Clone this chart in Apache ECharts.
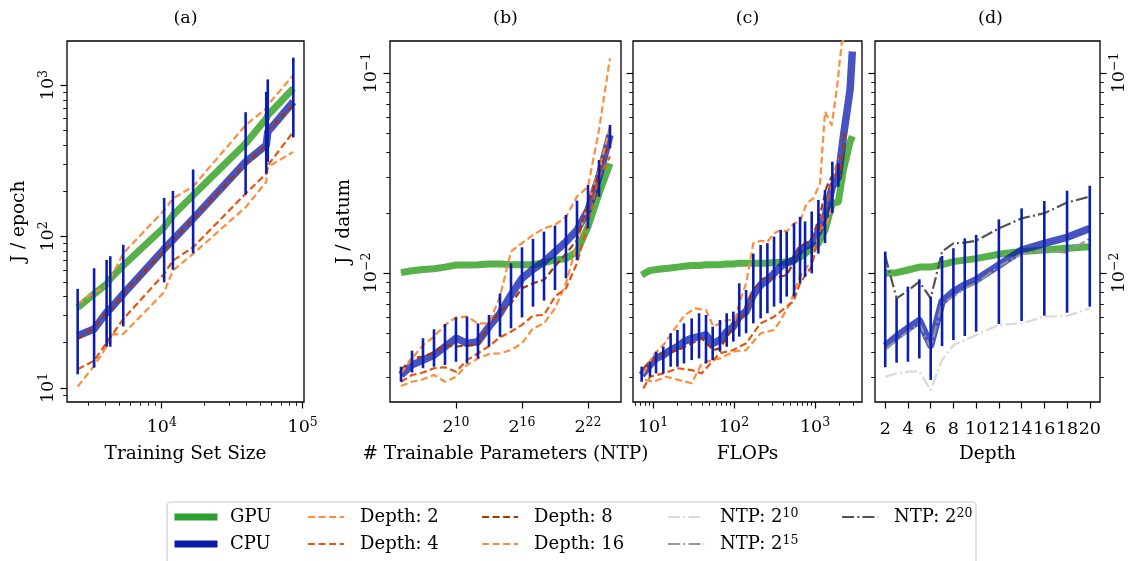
<!DOCTYPE html>
<html><head><meta charset="utf-8">
<script src="https://cdn.jsdelivr.net/npm/echarts@6/dist/echarts.min.js"></script>
<style>html,body{margin:0;padding:0;background:#fff}#c{width:1130px;height:561px}</style>
</head><body><div id="c"></div>
<script>
// ---------------- DATA ----------------
// Panel (a): J / epoch vs training set size
const aSize  = [2530, 3310, 4060, 4310, 5330, 10400, 12000, 16700, 39400, 55200, 56600, 85900];
const aGPU   = [34.0, 41.7, 48.6, 52.5, 64.3, 115, 138, 187, 411, 601, 632, 950];
const aCPU   = [22.1, 24.5, 31.6, 33.2, 41.7, 82.8, 95.0, 131, 311, 401, 491, 776];
const aCPUhi = [45.1, 61.7, 70.0, 74.1, 88.1, 180, 200, 277, 662, 903, 1090, 1517];
const aCPUlo = [12.3, 13.6, 18.7, 18.7, 25.5, 49.8, 60.3, 77.4, 189, 260, 311, 451];
const aD2    = [10.2, 14.0, 18.7, 22.5, 22.7, 42.8, 59.6, 76.8, 156, 229, 288, 362];
const aD4    = [13.3, 15.1, 19.9, 21.5, 28.5, 56.6, 69.3, 84.9, 192, 260, 295, 491];
const aD8    = [21.0, 25.1, 31.6, 32.4, 41.7, 80.7, 94.1, 131, 303, 401, 503, 738];
const aD16   = [35.8, 42.8, 46.6, 52.5, 77.4, 149, 178, 214, 543, 701, 738, 1164];

// Panel (b): J / datum vs # trainable parameters
const bNTP   = [32, 64, 128, 256, 512, 1024, 2048, 4096, 8192, 16384, 32768, 65536, 131072, 262144, 524288, 1048576, 2097152, 4194304, 8388608, 16777216];
const bGPU   = [0.01004, 0.01027, 0.0104, 0.0105, 0.0107, 0.01096, 0.01096, 0.0110, 0.0111, 0.0111, 0.0110, 0.0110, 0.0110, 0.01127, 0.0116, 0.0118, 0.0128, 0.01706, 0.025, 0.0353];
const bCPU   = [0.00309, 0.00347, 0.00367, 0.00389, 0.00428, 0.00472, 0.00445, 0.00454, 0.00539, 0.00629, 0.00776, 0.0094, 0.01043, 0.01137, 0.01277, 0.01433, 0.0164, 0.02065, 0.0303, 0.049];
const bCPUhi = [0.0034, 0.00409, 0.00472, 0.00523, 0.00556, 0.0060, 0.00605, 0.0056, 0.00617, 0.00791, 0.01118, 0.01344, 0.0148, 0.0161, 0.01726, 0.0195, 0.023, 0.02754, 0.0367, 0.055];
const bCPUlo = [0.00286, 0.00318, 0.00334, 0.0034, 0.00347, 0.0036, 0.00353, 0.00374, 0.00428, 0.00481, 0.00529, 0.006, 0.00679, 0.00728, 0.00822, 0.0094, 0.01161, 0.0167, 0.0241, 0.042];
const bD2    = [0.00272, 0.00286, 0.00294, 0.00309, 0.00286, 0.00303, 0.00347, 0.00374, 0.00394, 0.00397, 0.00412, 0.00445, 0.00529, 0.0056, 0.00666, 0.00888, 0.0141, 0.0223, 0.0327, 0.0539];
const bD4    = [0.00286, 0.00309, 0.00318, 0.00334, 0.00338, 0.00321, 0.00367, 0.00397, 0.00431, 0.00477, 0.00509, 0.0055, 0.00612, 0.00617, 0.00762, 0.00838, 0.0112, 0.0177, 0.0303, 0.0382];
const bD8    = [0.00327, 0.00374, 0.00382, 0.004, 0.00436, 0.00428, 0.00436, 0.00436, 0.0055, 0.00641, 0.00705, 0.00838, 0.00888, 0.00923, 0.0108, 0.0125, 0.0146, 0.0223, 0.0315, 0.0462];
const bD16   = [0.00315, 0.00374, 0.00436, 0.00481, 0.0055, 0.006, 0.00605, 0.0056, 0.0056, 0.00762, 0.0128, 0.0141, 0.0155, 0.0167, 0.0174, 0.0191, 0.0241, 0.027, 0.0519, 0.1184];

// Panel (c): J / datum vs FLOPs
const cFLOPs = [7.24, 9.18, 10.9, 13.4, 16.5, 20.0, 24.1, 30.0, 37.0, 45.1, 54.5, 67.1, 81.2, 98.0, 116, 141, 173, 213, 258, 312, 377, 447, 551, 653, 753, 910, 1100, 1328, 1636, 1941, 2237, 2706, 2890];
const cGPU   = [0.00977, 0.0103, 0.0104, 0.0105, 0.0106, 0.0107, 0.0108, 0.0109, 0.0109, 0.0110, 0.0110, 0.0110, 0.0111, 0.0111, 0.0112, 0.0112, 0.0112, 0.0112, 0.0112, 0.0113, 0.0113, 0.0114, 0.0116, 0.0120, 0.0125, 0.0133, 0.0141, 0.0164, 0.0223, 0.0227, 0.0327, 0.0452, 0.0483];
const cCPU   = [0.00309, 0.00347, 0.00374, 0.00389, 0.00412, 0.00428, 0.00454, 0.00472, 0.00481, 0.0049, 0.00445, 0.00462, 0.00509, 0.00539, 0.00605, 0.00641, 0.00776, 0.0087, 0.00923, 0.00996, 0.01077, 0.01118, 0.0116, 0.01303, 0.01354, 0.01407, 0.0161, 0.01915, 0.027, 0.0303, 0.0481, 0.0822, 0.128];
const cCPUhi = [0.0034, 0.0036, 0.00404, 0.00428, 0.005, 0.00519, 0.0056, 0.00593, 0.00629, 0.00617, 0.00539, 0.00582, 0.00629, 0.00641, 0.00888, 0.00822, 0.0125, 0.0138, 0.0141, 0.0152, 0.0164, 0.0161, 0.0177, 0.0191, 0.0181, 0.0203, 0.0232, 0.026, 0.036, 0.0353, null, null, null];
const cCPUlo = [0.00286, 0.00303, 0.00315, 0.00315, 0.0034, 0.0034, 0.00353, 0.00367, 0.00374, 0.00353, 0.00367, 0.00404, 0.00428, 0.00454, 0.00481, 0.005, 0.0056, 0.00593, 0.00629, 0.00679, 0.00705, 0.00762, 0.00762, 0.00888, 0.00959, 0.00996, 0.0125, 0.0141, 0.0199, 0.027, null, null, null];
const cD2x   = [7.96, 10.1, 14.7, 20.5, 30.0, 39.9, 53.0, 67.2, 98.1, 141, 213, 312, 377, 491, 653, 752, 910, 1153, 1393, 1684];
const cD2    = [0.00292, 0.00286, 0.00303, 0.00292, 0.00281, 0.00353, 0.00367, 0.00374, 0.00404, 0.00412, 0.005, 0.00519, 0.00582, 0.00705, 0.00959, 0.0104, 0.0116, 0.0164, 0.0177, 0.0223];
const cD4x   = [7.60, 9.18, 13.4, 20.5, 30.0, 39.9, 55.6, 67.2, 98.1, 141, 213, 312, 447, 540, 653, 910, 1153, 1393, 1684, 1941];
const cD4    = [0.00265, 0.00303, 0.00315, 0.00334, 0.00327, 0.00315, 0.00367, 0.00397, 0.00412, 0.00445, 0.0056, 0.00605, 0.00679, 0.00719, 0.00888, 0.0108, 0.0164, 0.0223, 0.0303, 0.0374];
const cD8x   = [7.60, 10.1, 13.4, 20.5, 30.0, 39.9, 55.6, 67.2, 98.1, 141, 173, 230, 312, 447, 540, 653, 910, 1153, 1393, 1684, 2036, 2346];
const cD8    = [0.00334, 0.00367, 0.00397, 0.00412, 0.00445, 0.00472, 0.00412, 0.0042, 0.00539, 0.00641, 0.00822, 0.0094, 0.0094, 0.00977, 0.0112, 0.0135, 0.0146, 0.0195, 0.027, 0.0315, 0.0303, 0.0519];
const cD16x  = [7.60, 10.1, 13.4, 18.7, 24.8, 33.0, 45.1, 55.6, 67.2, 81.2, 103, 116, 141, 173, 213, 258, 312, 377, 447, 550, 653, 789, 954, 1153, 1329, 1607, 1851, 2134, 2704];
const cD16   = [0.00315, 0.00389, 0.00436, 0.00529, 0.00617, 0.00666, 0.00653, 0.00539, 0.0056, 0.00582, 0.00582, 0.00705, 0.00888, 0.0141, 0.0145, 0.0143, 0.0158, 0.0164, 0.0161, 0.0177, 0.0181, 0.0223, 0.0236, 0.0281, 0.0641, 0.055, 0.0822, 0.1407, 0.17];

// Panel (d): J / datum vs depth
const dDepth = [2, 3, 4, 5, 6, 7, 8, 9, 10, 12, 14, 16, 18, 20];
const dGPU   = [0.00996, 0.01004, 0.01035, 0.0107, 0.0107, 0.0110, 0.0114, 0.0116, 0.0118, 0.0124, 0.0128, 0.01303, 0.0133, 0.01354];
const dCPU   = [0.00431, 0.00481, 0.00529, 0.00578, 0.00436, 0.00719, 0.00806, 0.0087, 0.00923, 0.01096, 0.01303, 0.01407, 0.01508, 0.0167];
const dCPUhi = [0.0128, 0.00747, 0.00855, 0.0093, 0.00762, 0.01216, 0.0133, 0.0149, 0.0155, 0.01854, 0.02104, 0.0229, 0.0258, 0.0273];
const dCPUlo = [0.00338, 0.00356, 0.0036, 0.00374, 0.00292, 0.00431, 0.00462, 0.00484, 0.00509, 0.00556, 0.00575, 0.00612, 0.00633, 0.00679];
const dNTP10 = [0.00303, 0.00315, 0.00321, 0.00321, 0.0026, 0.00367, 0.00436, 0.00462, 0.0049, 0.0055, 0.0056, 0.00605, 0.0061, 0.00666];
const dNTP15 = [0.00415, 0.00462, 0.00509, 0.0056, 0.0042, 0.00705, 0.00762, 0.00838, 0.00888, 0.01077, 0.01245, 0.01294, 0.01264, 0.0149];
const dNTP20 = [0.01216, 0.00747, 0.00816, 0.00905, 0.00747, 0.0128, 0.01407, 0.01418, 0.0145, 0.0167, 0.01875, 0.0199, 0.0225, 0.0241];

// Tick values
const xaMajor = [1e4, 1e5];
const xaMinor = [3000, 4000, 5000, 6000, 7000, 8000, 9000, 20000, 30000, 40000, 50000, 60000, 70000, 80000, 90000];
const yaMajor = [10, 100, 1000];
const yaMinor = [9, 20, 30, 40, 50, 60, 70, 80, 90, 200, 300, 400, 500, 600, 700, 800, 900];
const xbMajor = [1024, 65536, 4194304];
const xcMajor = [10, 100, 1000];
const xcMinor = [6, 7, 8, 9, 20, 30, 40, 50, 60, 70, 80, 90, 200, 300, 400, 500, 600, 700, 800, 900, 2000, 3000];
const xdMajor = [2, 4, 6, 8, 10, 12, 14, 16, 18, 20];
const yJMajor = [0.01, 0.1];
const yJMinor = [0.003, 0.004, 0.005, 0.006, 0.007, 0.008, 0.009, 0.02, 0.03, 0.04, 0.05, 0.06, 0.07, 0.08, 0.09];

// Panel titles and legend entries
const panelTitles = ['(a)', '(b)', '(c)', '(d)'];
const legendNames = ['GPU', 'CPU', 'Depth: 2', 'Depth: 4', 'Depth: 8', 'Depth: 16', 'NTP: 2^10', 'NTP: 2^15', 'NTP: 2^20'];

// ---------------- STYLE ----------------
const FONT = 'DejaVu Serif';
const C_GPU = '#2a9d1a', C_CPU = '#0a1aab', C_BAR = '#0a1fb0';
const C_D2 = '#fd8d3c', C_D4 = '#e6550d', C_D8 = '#a63603', C_D16 = '#fd8d3c';
const C_N10 = '#d9d9d9', C_N15 = '#969696', C_N20 = '#525252';
const DASH = [7, 3.5], DASHDOT = [12, 3.2, 2, 3.2];
const RICH = {
  b: {fontFamily: FONT, fontSize: 17.5, lineHeight: 22, color: '#000'},
  s: {fontFamily: FONT, fontSize: 12.5, lineHeight: 14, verticalAlign: 'top', color: '#000'}
};
const pow10 = v => '{b|10}{s|' + String(Math.round(Math.log10(v))).replace('-', '\u2212') + '}';
const pow2 = v => '{b|2}{s|' + Math.round(Math.log2(v)) + '}';

const gridBoxes = [
  {left: 67, top: 41, width: 237, height: 361},
  {left: 390, top: 41, width: 231, height: 361},
  {left: 633, top: 41, width: 229, height: 361},
  {left: 875, top: 41, width: 231, height: 361}
];
const grids = gridBoxes.map(g => Object.assign({show: true, borderColor: '#000', borderWidth: 1.3, backgroundColor: 'rgba(0,0,0,0)'}, g));

function ax(gi, min, max, logBase, ticks, isMinor, fmt, extra) {
  const a = {
    type: logBase ? 'log' : 'value', gridIndex: gi, min: min, max: max,
    axisLine: {show: false}, splitLine: {show: false},
    axisTick: {show: true, inside: false, length: isMinor ? 3.8 : 6.5, customValues: ticks,
      lineStyle: {color: '#000', width: isMinor ? 0.9 : 1.2}},
    axisLabel: fmt ? {show: true, customValues: ticks, formatter: fmt, fontFamily: FONT, fontSize: 17.5,
      lineHeight: 22, color: '#000', margin: 14, rich: RICH} : {show: false},
    axisPointer: {show: false}
  };
  if (logBase) a.logBase = logBase;
  return Object.assign(a, extra || {});
}
const NAME_STYLE = {fontFamily: FONT, fontSize: 18.5, color: '#000'};
const YMIN = 0.002265, YMAX = 0.1445;

const xAxis = [
  ax(0, 2125, 102300, 10, xaMajor, false, pow10, {position: 'bottom', name: 'Training Set Size', nameLocation: 'middle', nameGap: 43, nameTextStyle: NAME_STYLE}),
  ax(0, 2125, 102300, 10, xaMinor, true, null, {position: 'bottom'}),
  ax(1, 16, 33554432, 2, xbMajor, false, pow2, {position: 'bottom', name: '# Trainable Parameters (NTP)', nameLocation: 'middle', nameGap: 43, nameTextStyle: NAME_STYLE}),
  ax(2, 5.66, 3800, 10, xcMajor, false, pow10, {position: 'bottom', name: 'FLOPs', nameLocation: 'middle', nameGap: 43, nameTextStyle: NAME_STYLE}),
  ax(2, 5.66, 3800, 10, xcMinor, true, null, {position: 'bottom'}),
  ax(3, 1.1, 20.9, 0, xdMajor, false, v => String(v), {position: 'bottom', name: 'Depth', nameLocation: 'middle', nameGap: 43, nameTextStyle: NAME_STYLE})
];
xAxis[5].axisLabel.margin = 16;

const yAxis = [
  ax(0, 8.07, 1955, 10, yaMajor, false, pow10, {position: 'left', name: 'J / epoch', nameLocation: 'middle', nameGap: 38, nameTextStyle: NAME_STYLE}),
  ax(0, 8.07, 1955, 10, yaMinor, true, null, {position: 'left'}),
  ax(1, YMIN, YMAX, 10, yJMajor, false, pow10, {position: 'left', name: 'J / datum', nameLocation: 'middle', nameGap: 36, nameTextStyle: NAME_STYLE}),
  ax(1, YMIN, YMAX, 10, yJMinor, true, null, {position: 'left'}),
  ax(2, YMIN, YMAX, 10, yJMajor, false, null, {position: 'left'}),
  ax(2, YMIN, YMAX, 10, yJMinor, true, null, {position: 'left'}),
  ax(3, YMIN, YMAX, 10, yJMajor, false, null, {position: 'left'}),
  ax(3, YMIN, YMAX, 10, yJMinor, true, null, {position: 'left'}),
  ax(3, YMIN, YMAX, 10, yJMajor, false, pow10, {position: 'right'}),
  ax(3, YMIN, YMAX, 10, yJMinor, true, null, {position: 'right'})
];
[0, 2].forEach(i => Object.assign(yAxis[i].axisLabel, {rotate: 90, align: 'center', verticalAlign: 'bottom', margin: 8}));
Object.assign(yAxis[8].axisLabel, {rotate: 90, margin: 8});

// ---------------- SERIES ----------------
const pairs = (xs, ys) => xs.map((x, i) => [x, ys[i]]);
function line(name, xi, yi, xs, ys, color, width, dash, opacity, z) {
  return {type: 'line', name: name, xAxisIndex: xi, yAxisIndex: yi, data: pairs(xs, ys),
    symbol: 'none', silent: true, animation: false, z: z || 2,
    lineStyle: {color: color, width: width, type: dash || 'solid', opacity: opacity == null ? 1 : opacity, join: 'round'},
    itemStyle: {color: color}};
}
function errbars(xi, yi, xs, lo, hi) {
  const data = [];
  xs.forEach((x, i) => { if (lo[i] != null && hi[i] != null) data.push([x, lo[i], hi[i]]); });
  return {type: 'custom', name: 'CPU error', xAxisIndex: xi, yAxisIndex: yi, data: data, z: 6,
    silent: true, animation: false, encode: {x: 0, y: [1, 2]},
    renderItem: (params, api) => {
      const p1 = api.coord([api.value(0), api.value(1)]);
      const p2 = api.coord([api.value(0), api.value(2)]);
      return {type: 'line', shape: {x1: p1[0], y1: p1[1], x2: p2[0], y2: p2[1]},
        style: {stroke: C_BAR, lineWidth: 2.6}};
    }};
}
const GW = 7, CW = 7.5, DW = 2.2;
const series = [];
function panelCore(xi, yi, x, gpu, cpu) {
  series.push(line('GPU', xi, yi, x, gpu, C_GPU, GW, 'solid', 0.8, 2));
  series.push(line('CPU', xi, yi, x, cpu, C_CPU, CW, 'solid', 0.75, 3));
}
// (a)
panelCore(0, 0, aSize, aGPU, aCPU);
series.push(line('Depth: 2', 0, 0, aSize, aD2, C_D2, DW, DASH, 1, 4));
series.push(line('Depth: 4', 0, 0, aSize, aD4, C_D4, DW, DASH, 1, 4));
series.push(line('Depth: 8', 0, 0, aSize, aD8, C_D8, DW, DASH, 1, 4));
series.push(line('Depth: 16', 0, 0, aSize, aD16, C_D16, DW, DASH, 1, 4));
series.push(errbars(0, 0, aSize, aCPUlo, aCPUhi));
// (b)
panelCore(2, 2, bNTP, bGPU, bCPU);
series.push(line('Depth: 2', 2, 2, bNTP, bD2, C_D2, DW, DASH, 1, 4));
series.push(line('Depth: 4', 2, 2, bNTP, bD4, C_D4, DW, DASH, 1, 4));
series.push(line('Depth: 8', 2, 2, bNTP, bD8, C_D8, DW, DASH, 1, 4));
series.push(line('Depth: 16', 2, 2, bNTP, bD16, C_D16, DW, DASH, 1, 4));
series.push(errbars(2, 2, bNTP, bCPUlo, bCPUhi));
// (c)
panelCore(3, 4, cFLOPs, cGPU, cCPU);
series.push(line('Depth: 2', 3, 4, cD2x, cD2, C_D2, DW, DASH, 1, 4));
series.push(line('Depth: 4', 3, 4, cD4x, cD4, C_D4, DW, DASH, 1, 4));
series.push(line('Depth: 8', 3, 4, cD8x, cD8, C_D8, DW, DASH, 1, 4));
series.push(line('Depth: 16', 3, 4, cD16x, cD16, C_D16, DW, DASH, 1, 4));
series.push(errbars(3, 4, cFLOPs, cCPUlo, cCPUhi));
// (d)
panelCore(5, 6, dDepth, dGPU, dCPU);
series.push(line('NTP: 2^10', 5, 6, dDepth, dNTP10, C_N10, DW, DASHDOT, 1, 4));
series.push(line('NTP: 2^15', 5, 6, dDepth, dNTP15, C_N15, DW, DASHDOT, 1, 4));
series.push(line('NTP: 2^20', 5, 6, dDepth, dNTP20, C_N20, DW, DASHDOT, 1, 4));
series.push(errbars(5, 6, dDepth, dCPUlo, dCPUhi));

// ---------------- LEGEND (one component per entry, laid out in columns) ----------------
const legendStyle = {
  'GPU': ['#2ca02c', 7, 'solid'], 'CPU': [C_CPU, 7, 'solid'],
  'Depth: 2': [C_D2, DW, DASH], 'Depth: 4': [C_D4, DW, DASH],
  'Depth: 8': [C_D8, DW, DASH], 'Depth: 16': [C_D16, DW, DASH],
  'NTP: 2^10': [C_N10, DW, DASHDOT], 'NTP: 2^15': [C_N15, DW, DASHDOT], 'NTP: 2^20': [C_N20, DW, DASHDOT]
};
const colLeft = [174.5, 307, 481, 667, 841];
const rowTop = [507, 534];
const legend = legendNames.map((n, i) => {
  const st = legendStyle[n];
  return {
    left: colLeft[Math.floor(i / 2)], top: rowTop[i % 2], orient: 'horizontal', padding: 0,
    itemWidth: 36, itemHeight: 14, selectedMode: false,
    data: [{name: n, itemStyle: {color: 'rgba(0,0,0,0)', borderWidth: 0, opacity: 0},
      lineStyle: {color: st[0], width: st[1], type: st[2], opacity: 1, cap: st[1] > 4 ? 'square' : 'butt'}}],
    formatter: s => s.indexOf('^') >= 0 ? s.replace(/\^(\d+)/, '{s|$1}') : s,
    textStyle: {fontFamily: FONT, fontSize: 18, color: '#000', lineHeight: 20, padding: [0, 0, 0, 11],
      rich: {s: {fontFamily: FONT, fontSize: 12.5, lineHeight: 14, verticalAlign: 'top', color: '#000'}}}
  };
});

// ---------------- TITLES ----------------
const title = panelTitles.map((t, i) => ({
  text: t, left: gridBoxes[i].left + gridBoxes[i].width / 2, top: 8, textAlign: 'center', padding: 0,
  textStyle: {fontFamily: FONT, fontSize: 17.5, fontWeight: 'normal', color: '#000', lineHeight: 20}
}));

// Legend frame (decoration)
const graphic = [{type: 'rect', silent: true, shape: {x: 167, y: 502, width: 809, height: 80, r: 4},
  style: {fill: '#fff', stroke: '#cccccc', lineWidth: 1.2}, z: -10}];

const chart = echarts.init(document.getElementById('c'), null, {renderer: 'canvas'});
chart.setOption({
  animation: false, backgroundColor: '#fff',
  title: title, grid: grids, xAxis: xAxis, yAxis: yAxis, series: series, legend: legend, graphic: graphic
});
</script></body></html>
